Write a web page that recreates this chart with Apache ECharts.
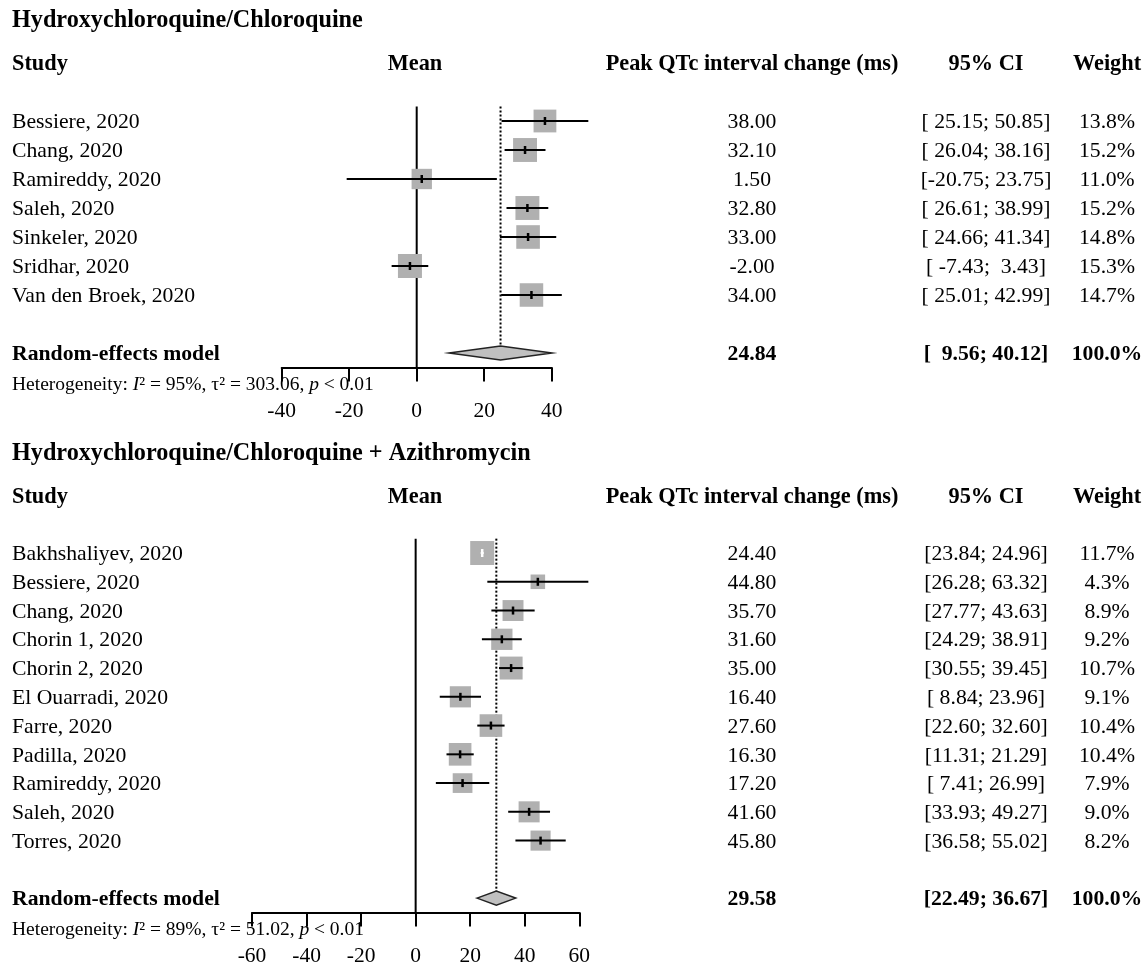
<!DOCTYPE html>
<html>
<head>
<meta charset="utf-8">
<script src="https://cdn.jsdelivr.net/npm/echarts@6/dist/echarts.min.js"></script>
<style>
html,body{margin:0;padding:0;background:#fff;}
#chart{width:1147px;height:967px;}
</style>
</head>
<body>
<div id="chart"></div>
<script>
// ---------------- data ----------------
const title1 = 'Hydroxychloroquine/Chloroquine';
const studies1 = ['Bessiere, 2020','Chang, 2020','Ramireddy, 2020','Saleh, 2020','Sinkeler, 2020','Sridhar, 2020','Van den Broek, 2020'];
const mean1   = [38.00, 32.10, 1.50, 32.80, 33.00, -2.00, 34.00];
const lower1  = [25.15, 26.04, -20.75, 26.61, 24.66, -7.43, 25.01];
const upper1  = [50.85, 38.16, 23.75, 38.99, 41.34, 3.43, 42.99];
const weight1 = [13.8, 15.2, 11.0, 15.2, 14.8, 15.3, 14.7];
const pooled1 = [24.84, 9.56, 40.12];          // mean, lower, upper
const het1    = ['95%', '303.06', '< 0.01'];    // I2, tau2, p
const ticks1  = [-40, -20, 0, 20, 40];

const title2 = 'Hydroxychloroquine/Chloroquine + Azithromycin';
const studies2 = ['Bakhshaliyev, 2020','Bessiere, 2020','Chang, 2020','Chorin 1, 2020','Chorin 2, 2020','El Ouarradi, 2020','Farre, 2020','Padilla, 2020','Ramireddy, 2020','Saleh, 2020','Torres, 2020'];
const mean2   = [24.40, 44.80, 35.70, 31.60, 35.00, 16.40, 27.60, 16.30, 17.20, 41.60, 45.80];
const lower2  = [23.84, 26.28, 27.77, 24.29, 30.55, 8.84, 22.60, 11.31, 7.41, 33.93, 36.58];
const upper2  = [24.96, 63.32, 43.63, 38.91, 39.45, 23.96, 32.60, 21.29, 26.99, 49.27, 55.02];
const weight2 = [11.7, 4.3, 8.9, 9.2, 10.7, 9.1, 10.4, 10.4, 7.9, 9.0, 8.2];
const pooled2 = [29.58, 22.49, 36.67];
const het2    = ['89%', '51.02', '< 0.01'];
const ticks2  = [-60, -40, -20, 0, 20, 40, 60];

const pooledWeight = [100.0, 100.0];
const headers = ['Study', 'Mean', 'Peak QTc interval change (ms)', '95% CI', 'Weight'];
const summaryLabel = 'Random-effects model';

// ---------------- layout / style ----------------
const FONT = "'Liberation Serif','Times New Roman',serif";
const ROW_H = 29;
const BOX_MAX = 24;
const BOX_FILL = '#b0b0b0';
const DIAMOND_FILL = '#c0c0c0';
const COL = {label: 12, forest: 415, mean: 752, ci: 986, weight: 1107};
const FS = 21.7, FS_HEAD = 22.3, FS_TITLE = 24.2, FS_HET = 19.5, FS_TICK = 21.5;
const TEXT_DY = 1.5;

const panels = [
  {title: title1, studies: studies1, mean: mean1, lower: lower1, upper: upper1, weight: weight1,
   pooled: pooled1, het: het1, ticks: ticks1, firstRowY: 121, axisLeft: 281.7, axisRight: 551.7},
  {title: title2, studies: studies2, mean: mean2, lower: lower2, upper: upper2, weight: weight2,
   pooled: pooled2, het: het2, ticks: ticks2, firstRowY: 554, axisLeft: 252, axisRight: 579.3}
];

function txt(text, x, y, align, opts) {
  opts = opts || {};
  return {
    type: 'text',
    style: Object.assign({
      text: text, x: x, y: y + TEXT_DY, align: align, verticalAlign: 'middle',
      fontFamily: FONT, fontSize: FS, fontWeight: 'normal', fill: '#000'
    }, opts)
  };
}

function fmtCI(lo, hi, wLo, wHi) {
  return '[' + lo.toFixed(2).padStart(wLo, ' ') + '; ' + hi.toFixed(2).padStart(wHi, ' ') + ']';
}

const grids = [], xAxes = [], yAxes = [], series = [];

panels.forEach(function (p, k) {
  const n = p.studies.length;
  const sumRow = n + 1;
  grids.push({left: p.axisLeft, width: p.axisRight - p.axisLeft,
              top: p.firstRowY - 4 * ROW_H, height: (n + 5.5) * ROW_H});
  const ticks = p.ticks;
  xAxes.push({
    gridIndex: k, type: 'value', position: 'bottom',
    min: ticks[0], max: ticks[ticks.length - 1], interval: ticks[1] - ticks[0],
    splitLine: {show: false},
    axisLine: {onZero: false, lineStyle: {color: '#000', width: 2}},
    axisTick: {length: 14, lineStyle: {color: '#000', width: 2}},
    axisLabel: {fontFamily: FONT, fontSize: FS_TICK, color: '#000', margin: 33, lineHeight: 21,
                formatter: function (v) { return ticks.indexOf(v) >= 0 ? String(v) : ''; }}
  });
  yAxes.push({gridIndex: k, type: 'value', inverse: true, min: -4, max: n + 1.5, show: false});

  const maxW = Math.max.apply(null, p.weight);
  const wLo = Math.max.apply(null, p.lower.concat([p.pooled[1]]).map(v => v.toFixed(2).length));
  const wHi = Math.max.apply(null, p.upper.concat([p.pooled[2]]).map(v => v.toFixed(2).length));

  // frame: zero line, titles, headers, heterogeneity
  series.push({
    type: 'custom', name: 'frame' + k, xAxisIndex: k, yAxisIndex: k, clip: false, silent: true, z: 1,
    data: [[0, -0.5, n + 1.5]],
    renderItem: function (params, api) {
      const a = api.coord([api.value(0), api.value(1)]);
      const b = api.coord([api.value(0), api.value(2)]);
      const yTitle = api.coord([0, -3.5])[1];
      const yHead = api.coord([0, -2])[1];
      const yHet = api.coord([0, n + 2.1])[1];
      const b1 = {fontWeight: 'bold', fontSize: FS_HEAD};
      return {type: 'group', children: [
        {type: 'line', shape: {x1: a[0], y1: a[1], x2: b[0], y2: b[1]}, style: {stroke: '#000', lineWidth: 2}},
        txt(p.title, COL.label, yTitle, 'left', {fontWeight: 'bold', fontSize: FS_TITLE}),
        txt(headers[0], COL.label, yHead, 'left', b1),
        txt(headers[1], COL.forest, yHead, 'center', b1),
        txt(headers[2], COL.mean, yHead, 'center', b1),
        txt(headers[3], COL.ci, yHead, 'center', b1),
        txt(headers[4], COL.weight, yHead, 'center', b1),
        {type: 'text', style: {
          x: COL.label, y: yHet, align: 'left', verticalAlign: 'middle',
          text: '{n|Heterogeneity: }{i|I}{n|² = ' + p.het[0] + ', τ² = ' + p.het[1] + ', }{i|p}{n| ' + p.het[2] + '}',
          rich: {
            n: {fontFamily: FONT, fontSize: FS_HET, fill: '#000'},
            i: {fontFamily: FONT, fontSize: FS_HET, fontStyle: 'italic', fill: '#000'}
          }
        }}
      ]};
    }
  });

  // pooled estimate: dotted line + diamond + bold texts
  series.push({
    type: 'custom', name: 'pooled' + k, xAxisIndex: k, yAxisIndex: k, clip: false, silent: true, z: 2,
    data: [[p.pooled[0], sumRow, p.pooled[1], p.pooled[2], pooledWeight[k]]],
    renderItem: function (params, api) {
      const row = api.value(1);
      const c = api.coord([api.value(0), row]);
      const lo = api.coord([api.value(2), row]);
      const hi = api.coord([api.value(3), row]);
      const top = api.coord([api.value(0), -0.5]);
      const h = 7;
      const b1 = {fontWeight: 'bold'};
      return {type: 'group', children: [
        {type: 'line', shape: {x1: top[0], y1: top[1], x2: c[0], y2: c[1] - h},
         style: {stroke: '#000', lineWidth: 2, lineDash: [2, 2]}},
        {type: 'polygon', shape: {points: [[lo[0], c[1]], [c[0], c[1] - h], [hi[0], c[1]], [c[0], c[1] + h]]},
         style: {fill: DIAMOND_FILL, stroke: '#222', lineWidth: 1.5}},
        txt(summaryLabel, COL.label, c[1], 'left', b1),
        txt(api.value(0).toFixed(2), COL.mean, c[1], 'center', b1),
        txt(fmtCI(api.value(2), api.value(3), wLo, wHi), COL.ci, c[1], 'center', b1),
        txt(api.value(4).toFixed(1) + '%', COL.weight, c[1], 'center', b1)
      ]};
    }
  });

  // studies: box, CI, mean tick, texts
  series.push({
    type: 'custom', name: 'studies' + k, xAxisIndex: k, yAxisIndex: k, clip: false, silent: true, z: 3,
    data: p.studies.map((s, i) => [p.mean[i], i, p.lower[i], p.upper[i], p.weight[i]]),
    renderItem: function (params, api) {
      const i = params.dataIndex;
      const row = api.value(1);
      const c = api.coord([api.value(0), row]);
      const lo = api.coord([api.value(2), row]);
      const hi = api.coord([api.value(3), row]);
      const side = BOX_MAX * Math.sqrt(api.value(4) / maxW);
      const inside = lo[0] >= c[0] - side / 2 && hi[0] <= c[0] + side / 2;
      const lc = inside ? '#fff' : '#000';
      return {type: 'group', children: [
        {type: 'rect', shape: {x: c[0] - side / 2, y: c[1] - side / 2, width: side, height: side},
         style: {fill: BOX_FILL}},
        {type: 'line', shape: {x1: lo[0], y1: c[1], x2: hi[0], y2: c[1]}, style: {stroke: lc, lineWidth: 2}},
        {type: 'line', shape: {x1: c[0], y1: c[1] - 4, x2: c[0], y2: c[1] + 4}, style: {stroke: lc, lineWidth: 2.5}},
        txt(p.studies[i], COL.label, c[1], 'left'),
        txt(api.value(0).toFixed(2), COL.mean, c[1], 'center'),
        txt(fmtCI(api.value(2), api.value(3), wLo, wHi), COL.ci, c[1], 'center'),
        txt(api.value(4).toFixed(1) + '%', COL.weight, c[1], 'center')
      ]};
    }
  });
});

const chart = echarts.init(document.getElementById('chart'), null, {renderer: 'canvas'});
chart.setOption({
  animation: false,
  backgroundColor: '#fff',
  grid: grids,
  xAxis: xAxes,
  yAxis: yAxes,
  series: series
});
</script>
</body>
</html>
